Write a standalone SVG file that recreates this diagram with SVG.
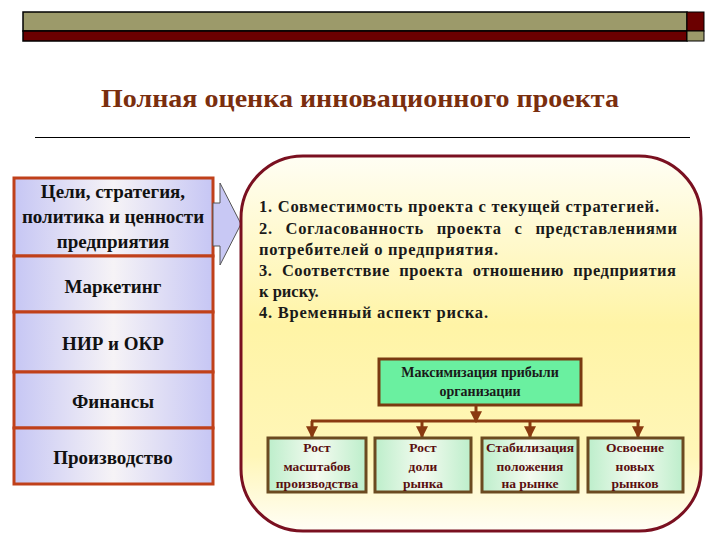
<svg xmlns="http://www.w3.org/2000/svg" width="720" height="540" viewBox="0 0 720 540">
<defs>
<style>
.t{font-family:"Liberation Serif","Tinos","Times New Roman","DejaVu Serif",serif;font-weight:bold}
.lb{fill:url(#lav);stroke:#c0401a;stroke-width:3}
.lt{font-size:19px;fill:#111;text-anchor:middle}
.rt{font-size:16.5px;fill:#1a1a1a}
.gb{fill:url(#mint);stroke:#6b4a20;stroke-width:3}
.gt{font-size:13.5px;fill:#5a0f0f;text-anchor:middle}
.con{stroke:#8a3a10;stroke-width:3;fill:none}
</style>
<linearGradient id="lav" x1="0" y1="0" x2="1" y2="0">
<stop offset="0" stop-color="#c6c6f4"/>
<stop offset="0.5" stop-color="#f6f3f6"/>
<stop offset="1" stop-color="#c6c6f4"/>
</linearGradient>
<linearGradient id="mint" x1="0" y1="0" x2="1" y2="0">
<stop offset="0" stop-color="#bdeecb"/>
<stop offset="0.5" stop-color="#f4fbf0"/>
<stop offset="1" stop-color="#bdeecb"/>
</linearGradient>
<linearGradient id="yel" x1="0" y1="0" x2="0" y2="1">
<stop offset="0" stop-color="#fffef4"/>
<stop offset="0.45" stop-color="#fff4a6"/>
<stop offset="0.8" stop-color="#fff6b8"/>
<stop offset="1" stop-color="#fffef6"/>
</linearGradient>
<marker id="ah" viewBox="0 0 10 10" refX="9" refY="5" markerWidth="4" markerHeight="4" orient="auto" markerUnits="strokeWidth">
<path d="M0,0 L10,5 L0,10 Z" fill="#8a3a10"/>
</marker>
</defs>
<rect width="720" height="540" fill="#ffffff"/>

<g id="topbar">
<rect x="23" y="12" width="664" height="19" fill="#9c9a6a" stroke="#000" stroke-width="1.5"/>
<rect x="23" y="31" width="664" height="10" fill="#6b0000" stroke="#000" stroke-width="1.5"/>
<rect x="687" y="12" width="17" height="19" fill="#6b0000" stroke="#000" stroke-width="1"/>
<rect x="687" y="31" width="17" height="10" fill="#9c9a6a" stroke="#000" stroke-width="1"/>
</g>

<g id="title">
<text class="t" x="101" y="107" font-size="25" fill="#7a2e0e" textLength="518" lengthAdjust="spacingAndGlyphs">Полная оценка инновационного проекта</text>
<line x1="35" y1="137.5" x2="690" y2="137.5" stroke="#000" stroke-width="1"/>
</g>

<g id="left-column">
<g id="n-goals">
<rect class="lb" x="14" y="178" width="199" height="78"/>
<text class="t lt" x="113" y="198">Цели, стратегия,</text>
<text class="t lt" x="113" y="223">политика и ценности</text>
<text class="t lt" x="113" y="248">предприятия</text>
</g>
<g id="n-marketing">
<rect class="lb" x="14" y="256" width="199" height="56"/>
<text class="t lt" x="113" y="293">Маркетинг</text>
</g>
<g id="n-nir">
<rect class="lb" x="14" y="312" width="199" height="60"/>
<text class="t lt" x="113" y="350">НИР и ОКР</text>
</g>
<g id="n-finance">
<rect class="lb" x="14" y="372" width="199" height="56"/>
<text class="t lt" x="113" y="408">Финансы</text>
</g>
<g id="n-production">
<rect class="lb" x="14" y="428" width="199" height="56"/>
<text class="t lt" x="113" y="464">Производство</text>
</g>
</g>

<g id="n-arrow">
<path d="M213,203 L220,203 L220,183 L241,224 L220,265 L220,246 L213,246 Z" fill="#c8c8f4" stroke="#555" stroke-width="1"/>
</g>

<g id="n-panel">
<rect x="241" y="156" width="460" height="375" rx="62" ry="62" fill="url(#yel)" stroke="#7a1020" stroke-width="3"/>
<text class="t rt" x="259" y="212" textLength="400" lengthAdjust="spacing">1. Совместимость проекта с текущей стратегией.</text>
<text class="t rt" x="259" y="234" word-spacing="8" textLength="418" lengthAdjust="spacing">2. Согласованность проекта с представлениями</text>
<text class="t rt" x="259" y="255" textLength="239" lengthAdjust="spacing">потребителей о предприятия.</text>
<text class="t rt" x="259" y="276" word-spacing="5" textLength="417" lengthAdjust="spacing">3. Соответствие проекта отношению предприятия</text>
<text class="t rt" x="259" y="297">к риску.</text>
<text class="t rt" x="259" y="318" textLength="229" lengthAdjust="spacing">4. Временный аспект риска.</text>
</g>

<g id="n-max">
<rect x="379" y="359" width="202" height="46" fill="#6af0a0" stroke="#7a3a10" stroke-width="3"/>
<text class="t" x="480" y="377" font-size="14" fill="#1a1a1a" text-anchor="middle">Максимизация прибыли</text>
<text class="t" x="480" y="396" font-size="14" fill="#1a1a1a" text-anchor="middle">организации</text>
</g>

<g id="connectors">
<line class="con" x1="476" y1="406" x2="476" y2="422" marker-end="url(#ah)"/>
<line class="con" x1="311" y1="421" x2="640" y2="421"/>
<line class="con" x1="312" y1="421" x2="312" y2="437" marker-end="url(#ah)"/>
<line class="con" x1="422" y1="421" x2="422" y2="437" marker-end="url(#ah)"/>
<line class="con" x1="530" y1="421" x2="530" y2="437" marker-end="url(#ah)"/>
<line class="con" x1="638" y1="421" x2="638" y2="437" marker-end="url(#ah)"/>
</g>

<g id="n-scale">
<rect class="gb" x="268" y="438" width="98" height="54"/>
<text class="t gt" x="317" y="452">Рост</text>
<text class="t gt" x="317" y="471">масштабов</text>
<text class="t gt" x="317" y="488">производства</text>
</g>
<g id="n-share">
<rect class="gb" x="375" y="438" width="96" height="54"/>
<text class="t gt" x="423" y="452">Рост</text>
<text class="t gt" x="423" y="471">доли</text>
<text class="t gt" x="423" y="488">рынка</text>
</g>
<g id="n-stab">
<rect class="gb" x="482" y="438" width="96" height="54"/>
<text class="t gt" x="530" y="452">Стабилизация</text>
<text class="t gt" x="530" y="471">положения</text>
<text class="t gt" x="530" y="488">на рынке</text>
</g>
<g id="n-new">
<rect class="gb" x="588" y="438" width="95" height="54"/>
<text class="t gt" x="635" y="452">Освоение</text>
<text class="t gt" x="635" y="471">новых</text>
<text class="t gt" x="635" y="488">рынков</text>
</g>
</svg>
